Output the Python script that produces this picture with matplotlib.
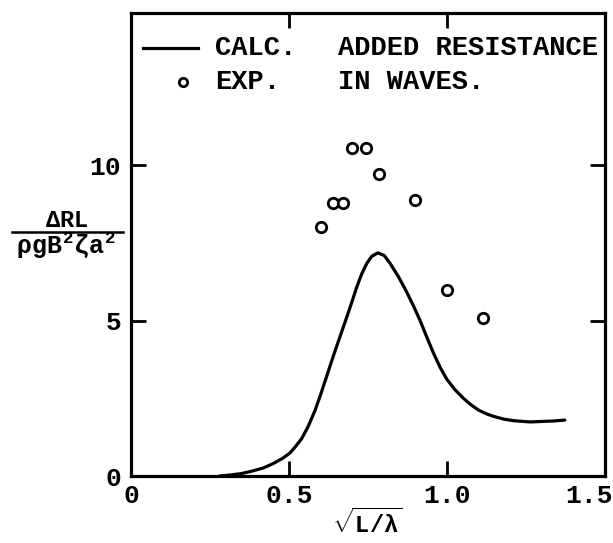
import matplotlib
matplotlib.use("Agg")
import matplotlib.pyplot as plt
from matplotlib.lines import Line2D
from matplotlib.transforms import offset_copy

# Calculated added resistance curve
calc_x = [0.28, 0.313, 0.35, 0.38, 0.419, 0.45, 0.48, 0.503, 0.52, 0.54,
          0.56, 0.582, 0.60, 0.619, 0.635, 0.651, 0.667, 0.683, 0.699, 0.714,
          0.730, 0.746, 0.762, 0.781, 0.801, 0.82, 0.846, 0.872, 0.894,
          0.915, 0.936, 0.957, 0.978, 0.999, 1.025, 1.052, 1.076, 1.10,
          1.125, 1.147, 1.18, 1.21, 1.263, 1.336, 1.373]
calc_y = [0.00, 0.03, 0.08, 0.15, 0.26, 0.40, 0.57, 0.74, 0.94, 1.20,
          1.58, 2.10, 2.62, 3.20, 3.70, 4.18, 4.65, 5.12, 5.60, 6.07,
          6.50, 6.84, 7.07, 7.18, 7.10, 6.84, 6.42, 5.93, 5.47,
          5.00, 4.47, 3.96, 3.50, 3.12, 2.78, 2.50, 2.29, 2.12,
          2.00, 1.92, 1.83, 1.78, 1.74, 1.77, 1.80]

# Experimental points
exp_x = [0.60, 0.64, 0.67, 0.70, 0.745, 0.785, 0.90, 1.00, 1.115]
exp_y = [8.0, 8.8, 8.8, 10.57, 10.54, 9.73, 8.87, 5.98, 5.07]

x_ticks = [0, 0.5, 1.0, 1.5]
x_labels = ["0", "0.5", "1.0", "1.5"]
y_ticks = [0, 5, 10]
y_labels = ["0", "5", "10"]

FONT = "Liberation Mono"
plt.rcParams["font.family"] = [FONT, "DejaVu Sans"]
plt.rcParams["font.weight"] = "bold"
plt.rcParams["mathtext.fontset"] = "custom"
plt.rcParams["mathtext.rm"] = FONT + ":bold"
plt.rcParams["mathtext.it"] = FONT + ":bold"
plt.rcParams["mathtext.bf"] = FONT + ":bold"

fig = plt.figure(figsize=(6.13, 5.43), dpi=100)
ax = fig.add_axes([131 / 613, 1 - 476 / 543, 474 / 613, 463 / 543])

ax.plot(calc_x, calc_y, color="black", lw=2.3, solid_capstyle="round",
        solid_joinstyle="round")
ax.plot(exp_x, exp_y, linestyle="none", marker="o", ms=7.5,
        mfc="white", mec="black", mew=2.0)

ax.set_xlim(0, 1.5)
ax.set_ylim(0, 14.9)
ax.set_xticks(x_ticks)
ax.set_xticklabels(x_labels)
ax.set_yticks(y_ticks)
ax.set_yticklabels(y_labels)
ax.tick_params(direction="in", length=11, width=2.0, labelsize=19,
               top=True, right=True)
ax.tick_params(axis="x", pad=6)
ax.tick_params(axis="y", pad=7)
for lab in ax.get_xticklabels() + ax.get_yticklabels():
    lab.set_fontweight("bold")
last = ax.get_xticklabels()[-1]
last.set_horizontalalignment("right")
last.set_transform(offset_copy(last.get_transform(), fig=fig, x=8, y=0,
                               units="dots"))
for s in ax.spines.values():
    s.set_linewidth(2.3)

# Legend drawn as text block inside the frame
fig.add_artist(Line2D([143 / 613, 198 / 613], [1 - 48 / 543] * 2,
                      transform=fig.transFigure, color="black", lw=2.3))
fig.add_artist(Line2D([183 / 613], [1 - 82 / 543], transform=fig.transFigure,
                      linestyle="none", marker="o", ms=6, mfc="white",
                      mec="black", mew=2.0))
legend_size = 19.5
fig.text(215 / 613, 1 - 48 / 543, "CALC.", fontsize=legend_size,
         fontweight="bold", va="center", ha="left")
fig.text(338 / 613, 1 - 48 / 543, "ADDED RESISTANCE", fontsize=legend_size,
         fontweight="bold", va="center", ha="left")
fig.text(215 / 613, 1 - 82 / 543, "EXP.", fontsize=legend_size,
         fontweight="bold", va="center", ha="left")
fig.text(338 / 613, 1 - 82 / 543, "IN WAVES.", fontsize=legend_size,
         fontweight="bold", va="center", ha="left")

# Y-axis label as a fraction
fig.text(67 / 613, 1 - 220 / 543, r"$\Delta$RL", fontsize=17,
         fontweight="bold", ha="center", va="center")
fig.add_artist(Line2D([12 / 613, 123 / 613], [1 - 232 / 543] * 2,
                      transform=fig.transFigure, color="black", lw=1.8))
fig.text(66 / 613, 1 - 246 / 543, r"$\rho gB^2\zeta a^2$", fontsize=18,
         ha="center", va="center")

# X-axis label
fig.text(367 / 613, 1 - 523 / 543, r"$\sqrt{L/\lambda}$", fontsize=17,
         ha="center", va="center")

fig.savefig("out.png", dpi=100)
